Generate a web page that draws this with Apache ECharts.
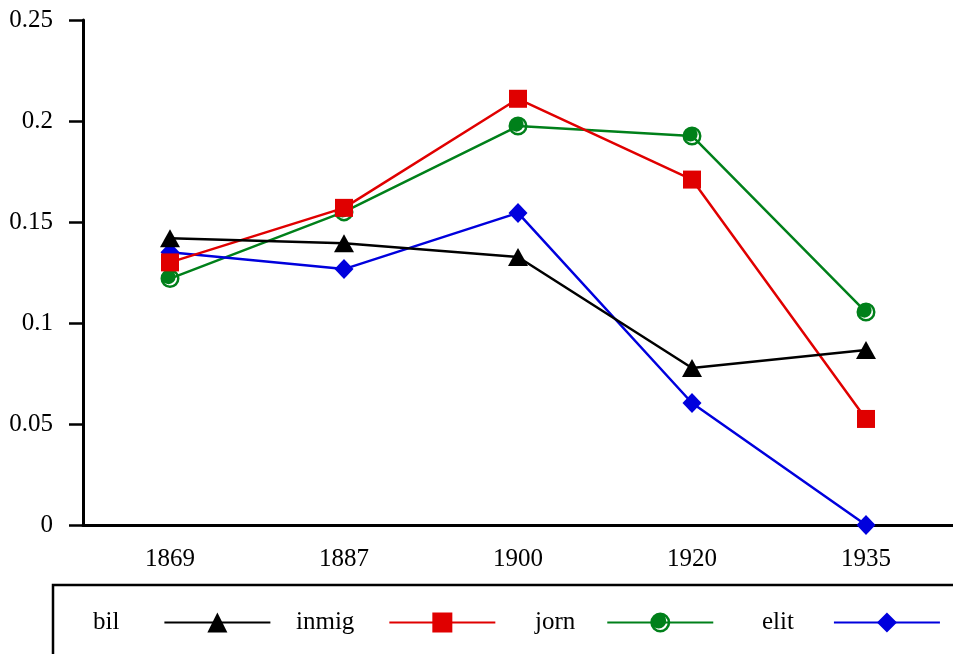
<!DOCTYPE html>
<html>
<head>
<meta charset="utf-8">
<script src="https://cdn.jsdelivr.net/npm/echarts@6/dist/echarts.min.js"></script>
<style>
  html, body { margin: 0; padding: 0; background: #fff; }
  #chart { width: 953px; height: 654px; }
</style>
</head>
<body>
<div id="chart"></div>
<script>
// Survey years along the horizontal axis
const years = ['1869', '1887', '1900', '1920', '1935'];

// Share per group and year
const bil   = [0.142, 0.1395, 0.1327, 0.0777, 0.0866];
const inmig = [0.130, 0.157, 0.211, 0.171, 0.0525];
const jorn  = [0.122, 0.155, 0.1975, 0.1926, 0.1054];
const elit  = [0.135, 0.1267, 0.1545, 0.0604, 0.0];

// Value axis ticks
const yMin = 0, yMax = 0.25, yStep = 0.05;

const FONT = 'Liberation Serif';
const colBlack = '#000000', colRed = '#e00000', colGreen = '#00801a', colBlue = '#0000dd';

// Green ring marker: disk with a thin white crescent toward the lower right
const ringMarker = 'path://M0 -10A10 10 0 1 1 0 10A10 10 0 1 1 0 -10Z' +
  'M0 -7.4A7.4 7.4 0 1 0 0 7.4A7.4 7.4 0 1 0 0 -7.4Z' +
  'M-1.6 -9.1A7.5 7.5 0 1 1 -1.6 5.9A7.5 7.5 0 1 1 -1.6 -9.1Z';

function lineSeries(name, data, color, symbol, size, z) {
  return {
    name, type: 'line', data, z,
    symbol, symbolSize: size,
    showAllSymbol: true,
    lineStyle: { color, width: 2.5 },
    itemStyle: { color, borderWidth: 0 },
    emphasis: { disabled: true },
    animation: false
  };
}

function legendFor(name, left, gap) {
  return {
    data: [name],
    left, top: 610,
    padding: 0,
    align: 'right',
    itemWidth: 106,
    itemHeight: 25,
    selectedMode: false,
    textStyle: { fontFamily: FONT, fontSize: 25, color: '#000', padding: [0, gap, 0, 0] }
  };
}

const chart = echarts.init(document.getElementById('chart'), null, { renderer: 'canvas' });
chart.setOption({
  backgroundColor: '#fff',
  animation: false,
  grid: { left: 83, width: 874, top: 20, bottom: 129, containLabel: false },
  xAxis: {
    type: 'category',
    data: years,
    boundaryGap: true,
    axisLine: { lineStyle: { color: '#000', width: 3 } },
    axisTick: { alignWithLabel: true, length: 15, lineStyle: { color: '#000', width: 2.5 } },
    axisLabel: { fontFamily: FONT, fontSize: 25, color: '#000', margin: 22 },
    splitLine: { show: false }
  },
  yAxis: {
    type: 'value',
    min: yMin, max: yMax, interval: yStep,
    axisLine: { show: true, lineStyle: { color: '#000', width: 3 } },
    axisTick: { show: true, length: 14, lineStyle: { color: '#000', width: 2.5 } },
    axisLabel: { fontFamily: FONT, fontSize: 25, color: '#000', margin: 30 },
    splitLine: { show: false }
  },
  legend: [
    legendFor('bil', 93, 40),
    legendFor('inmig', 296, 30),
    legendFor('jorn', 535, 27),
    legendFor('elit', 762, 35)
  ],
  graphic: [{
    type: 'rect',
    shape: { x: 53, y: 585, width: 1000, height: 200 },
    style: { fill: 'none', stroke: '#000', lineWidth: 2.5 },
    silent: true
  }],
  series: [
    lineSeries('bil', bil, colBlack, 'triangle', [20, 18], 5),
    lineSeries('inmig', inmig, colRed, 'rect', 18, 4),
    lineSeries('jorn', jorn, colGreen, ringMarker, 19, 2),
    lineSeries('elit', elit, colBlue, 'diamond', [19, 20], 3)
  ]
});
</script>
</body>
</html>
